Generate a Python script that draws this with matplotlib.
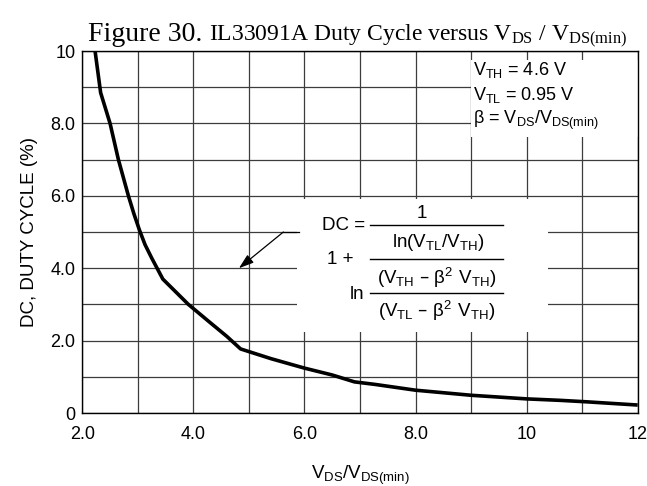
import matplotlib
matplotlib.use("Agg")
import matplotlib.pyplot as plt
from matplotlib.patches import Rectangle

# Duty cycle curve
vds_ratio = [2.23, 2.33, 2.5, 2.65, 2.83, 2.93, 3.03, 3.13, 3.25, 3.45, 3.91, 4.3, 4.6,
             4.85, 5.4, 6.0, 6.5, 6.9, 7.27, 8.0, 9.0, 10.0, 10.6, 11.07, 12.0]
duty_cycle = [10.0, 8.85, 8.0, 7.0, 6.0, 5.5, 5.05, 4.65, 4.28, 3.7, 3.0, 2.5, 2.12,
              1.77, 1.5, 1.24, 1.05, 0.86, 0.79, 0.63, 0.49, 0.39, 0.35, 0.31, 0.22]

x_ticks = [2, 4, 6, 8, 10, 12]
x_ticklabels = ["2.0", "4.0", "6.0", "8.0", "10", "12"]
y_ticks = [0, 2, 4, 6, 8, 10]
y_ticklabels = ["0", "2.0", "4.0", "6.0", "8.0", "10"]

sans = ["Liberation Sans", "DejaVu Sans"]
serif = ["Liberation Serif", "DejaVu Serif"]
plt.rcParams["font.family"] = sans

fig = plt.figure(figsize=(6.47, 4.86), dpi=100)
ax = fig.add_axes([0.1272, 0.1502, 0.8584, 0.7448])

ax.plot(vds_ratio, duty_cycle, color="black", linewidth=2.6, zorder=3,
        solid_joinstyle="round", solid_capstyle="butt")

ax.set_xlim(2, 12)
ax.set_ylim(0, 10)
ax.set_xticks(x_ticks)
ax.set_xticklabels(x_ticklabels)
ax.set_yticks(y_ticks)
ax.set_yticklabels(y_ticklabels)
ax.set_xticks(range(3, 12, 2), minor=True)
ax.set_yticks(range(1, 10, 2), minor=True)
ax.tick_params(which="both", length=0, labelsize=13)
ax.tick_params(axis="x", pad=9)
ax.tick_params(axis="y", pad=5)
ax.grid(which="both", color="#3c3c3c", linewidth=0.9)
ax.set_axisbelow(True)
for sp in ax.spines.values():
    sp.set_linewidth(1.0)

ax.set_xlabel(r"$\mathregular{V_{DS}/V_{DS(min)}}$", fontsize=13.5, labelpad=15)
ax.set_ylabel("DC, DUTY CYCLE (%)", fontsize=13.5, labelpad=9)

# white backgrounds behind the annotations
ax.add_patch(Rectangle((8.99, 7.62), 3.01, 2.13, facecolor="white",
                       edgecolor="none", zorder=1))
ax.add_patch(Rectangle((5.87, 2.24), 4.52, 3.66, facecolor="white",
                       edgecolor="none", zorder=1))

# parameters block
params = [r"$\mathregular{V_{TH}}$ = 4.6 V",
          r"$\mathregular{V_{TL}}$ = 0.95 V",
          r"$\mathregular{\beta}$ = $\mathregular{V_{DS}/V_{DS(min)}}$"]
for i, s in enumerate(params):
    ax.text(9.03, 9.47 - 0.69 * i, s, fontsize=13, va="center", ha="left", zorder=4)

# duty cycle formula
fs = 13.5
ax.text(7.09, 5.19, "DC =", fontsize=fs, ha="right", va="center", zorder=4)
ax.text(8.12, 5.50, "1", fontsize=fs, ha="center", va="center", zorder=4)
ax.text(8.41, 4.70, r"ln($\mathregular{V_{TL}/V_{TH}}$)", fontsize=fs,
        ha="center", va="center", zorder=4)
ax.text(6.40, 4.23, "1 +", fontsize=fs, ha="left", va="center", zorder=4)
ax.text(8.38, 3.74, r"($\mathregular{V_{TH}}$ – $\mathregular{\beta^2\ V_{TH}}$)",
        fontsize=fs, ha="center", va="center", zorder=4)
ax.text(6.82, 3.26, "ln", fontsize=fs, ha="left", va="center", zorder=4)
ax.text(8.38, 2.82, r"($\mathregular{V_{TL}}$ – $\mathregular{\beta^2\ V_{TH}}$)",
        fontsize=fs, ha="center", va="center", zorder=4)
for yb in (5.19, 4.25, 3.31):
    ax.plot([7.18, 9.58], [yb, yb], color="black", linewidth=1.0, zorder=4)

# leader arrow pointing at the curve region
ax.plot([5.62, 5.9], [5.0, 5.0], color="black", linewidth=0.9, zorder=4)
ax.annotate("", xy=(4.82, 4.0), xytext=(5.62, 5.0),
            arrowprops=dict(arrowstyle="-|>,head_length=0.9,head_width=0.3",
                            color="black", lw=0.9, shrinkA=0, shrinkB=0),
            zorder=4)

# title in two sizes
fig.text(88 / 647, 1 - 41 / 486, "Figure 30.", fontsize=20, family=serif,
         ha="left", va="baseline")
fig.text(209 / 647, 1 - 41 / 486,
         r"IL33091A Duty Cycle versus $\mathregular{V_{DS}}$ / $\mathregular{V_{DS(min)}}$",
         fontsize=17, family=serif, ha="left", va="baseline")

fig.savefig("out.png", dpi=100)
